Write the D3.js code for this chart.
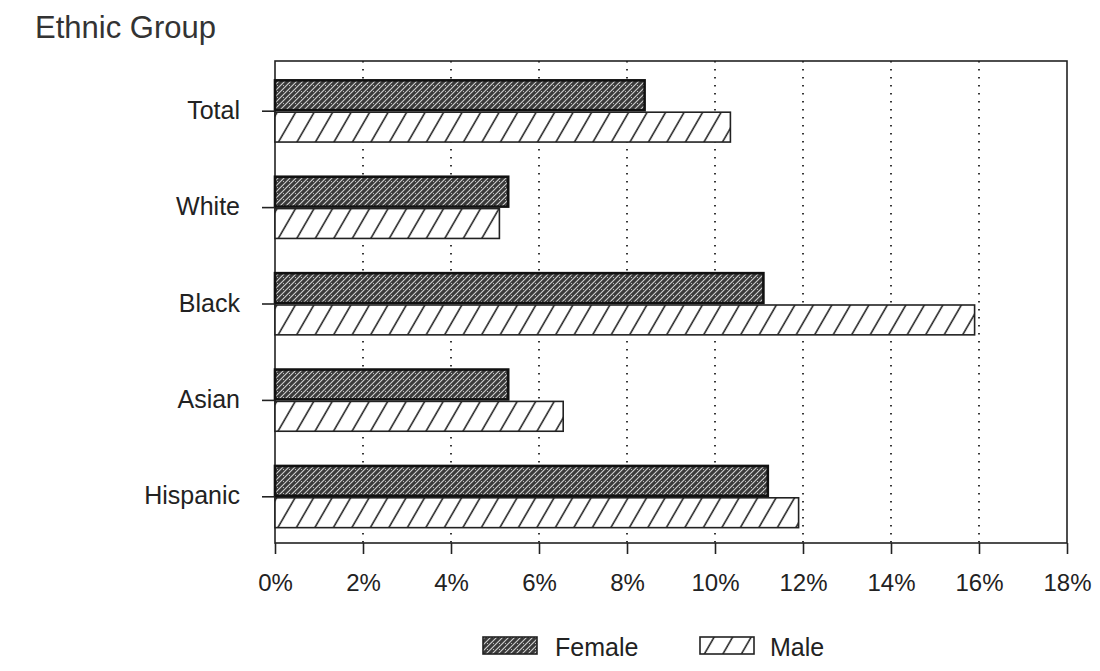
<!DOCTYPE html>
<html><head><meta charset="utf-8">
<script src="https://cdn.jsdelivr.net/npm/d3@7"></script>
<style>body{margin:0;background:#fff}svg{display:block}</style>
</head><body>
<script>
const categories = ["Total","White","Black","Asian","Hispanic"];
const female = [8.4, 5.3, 11.1, 5.3, 11.2];
const male = [10.35, 5.1, 15.9, 6.55, 11.9];
const ticks = [0,2,4,6,8,10,12,14,16,18];
const seriesNames = ["Female","Male"];

const W=1100,H=671;
const FONT="Liberation Sans, Arial, Helvetica, sans-serif";
const svg=d3.select("body").append("svg").attr("width",W).attr("height",H);
const defs=svg.append("defs");
// female: dark stipple
const pf=defs.append("pattern").attr("id","pf").attr("patternUnits","userSpaceOnUse").attr("width",6).attr("height",6);
pf.append("rect").attr("width",6).attr("height",6).attr("fill","#3a3a3a");
pf.append("path").attr("d","M0,6 L6,0 M-1,1 L1,-1 M5,7 L7,5").attr("stroke","#d0d0d0").attr("stroke-width",1.1);
pf.append("rect").attr("x",1).attr("y",1).attr("width",1).attr("height",1).attr("fill","#bbb");
// male: diagonal hatch
const pm=defs.append("pattern").attr("id","pm").attr("patternUnits","userSpaceOnUse").attr("width",18.5).attr("height",31).attr("patternTransform","skewX(-30)");
pm.append("rect").attr("width",18.5).attr("height",31).attr("fill","#fff");
pm.append("line").attr("x1",9).attr("y1",-1).attr("x2",9).attr("y2",32).attr("stroke","#222").attr("stroke-width",1.8);

const m={l:275,r:1067,t:61,b:543};
const x=d3.scaleLinear().domain([0,18]).range([m.l,m.r]);
const y=d3.scaleBand().domain(categories).range([m.t+2,m.b+2]).paddingInner(0.36).paddingOuter(0.18);
const sub=d3.scaleBand().domain(seriesNames).range([0,y.bandwidth()]);

// gridlines
svg.append("g").selectAll("line").data(ticks.filter(t=>t>0&&t<18)).join("line")
 .attr("x1",d=>x(d)).attr("x2",d=>x(d)).attr("y1",m.t).attr("y2",m.b)
 .attr("stroke","#222").attr("stroke-width",1.8).attr("stroke-dasharray","1.6,6.4");

// frame
svg.append("rect").attr("x",m.l).attr("y",m.t).attr("width",m.r-m.l).attr("height",m.b-m.t)
 .attr("fill","none").attr("stroke","#222").attr("stroke-width",1.6);

// bars
const g=svg.append("g");
categories.forEach((c,i)=>{
  g.append("rect").attr("x",x(0)).attr("y",y(c)+sub("Female")).attr("width",x(female[i])-x(0)).attr("height",sub.bandwidth()-1)
   .attr("fill","url(#pf)").attr("stroke","#111").attr("stroke-width",2.6);
  g.append("rect").attr("x",x(0)).attr("y",y(c)+sub("Male")+1).attr("width",x(male[i])-x(0)).attr("height",sub.bandwidth()-1)
   .attr("fill","url(#pm)").attr("stroke","#222").attr("stroke-width",1.6);
});

// x axis
const xa=svg.append("g").attr("transform",`translate(0,${m.b})`)
 .call(d3.axisBottom(x).tickValues(ticks).tickFormat(d=>d+"%").tickSize(11).tickPadding(20));
xa.select(".domain").remove();
xa.selectAll("line").attr("stroke","#222").attr("stroke-width",1.6);
xa.selectAll("text").attr("font-family",FONT).attr("font-size",24).attr("fill","#222");

// y axis
const off = sub.bandwidth()-y.bandwidth()/2;
const ya=svg.append("g").attr("transform",`translate(${m.l},0)`)
 .call(d3.axisLeft(y).tickSize(13).tickPadding(20));
ya.select(".domain").remove();
ya.selectAll("line").attr("stroke","#222").attr("stroke-width",1.6).attr("transform",`translate(0,${off})`);
ya.selectAll("text").attr("font-family",FONT).attr("font-size",25).attr("fill","#222")
 .attr("dy","0.3em").attr("transform",`translate(-2,${off})`);

// title
svg.append("text").attr("x",35).attr("y",38).text("Ethnic Group")
 .attr("font-family",FONT).attr("font-size",31).attr("fill","#333");

// legend
const leg=[{n:"Female",f:"url(#pf)",x:483,tx:555},{n:"Male",f:"url(#pm)",x:700,tx:770}];
const lg=svg.append("g");
leg.forEach(d=>{
  lg.append("rect").attr("x",d.x).attr("y",637).attr("width",54).attr("height",17).attr("fill",d.f).attr("stroke","#222").attr("stroke-width",1.6);
  lg.append("text").attr("x",d.tx).attr("y",656).text(d.n).attr("font-family",FONT).attr("font-size",25).attr("fill","#222");
});
</script>
</body></html>
